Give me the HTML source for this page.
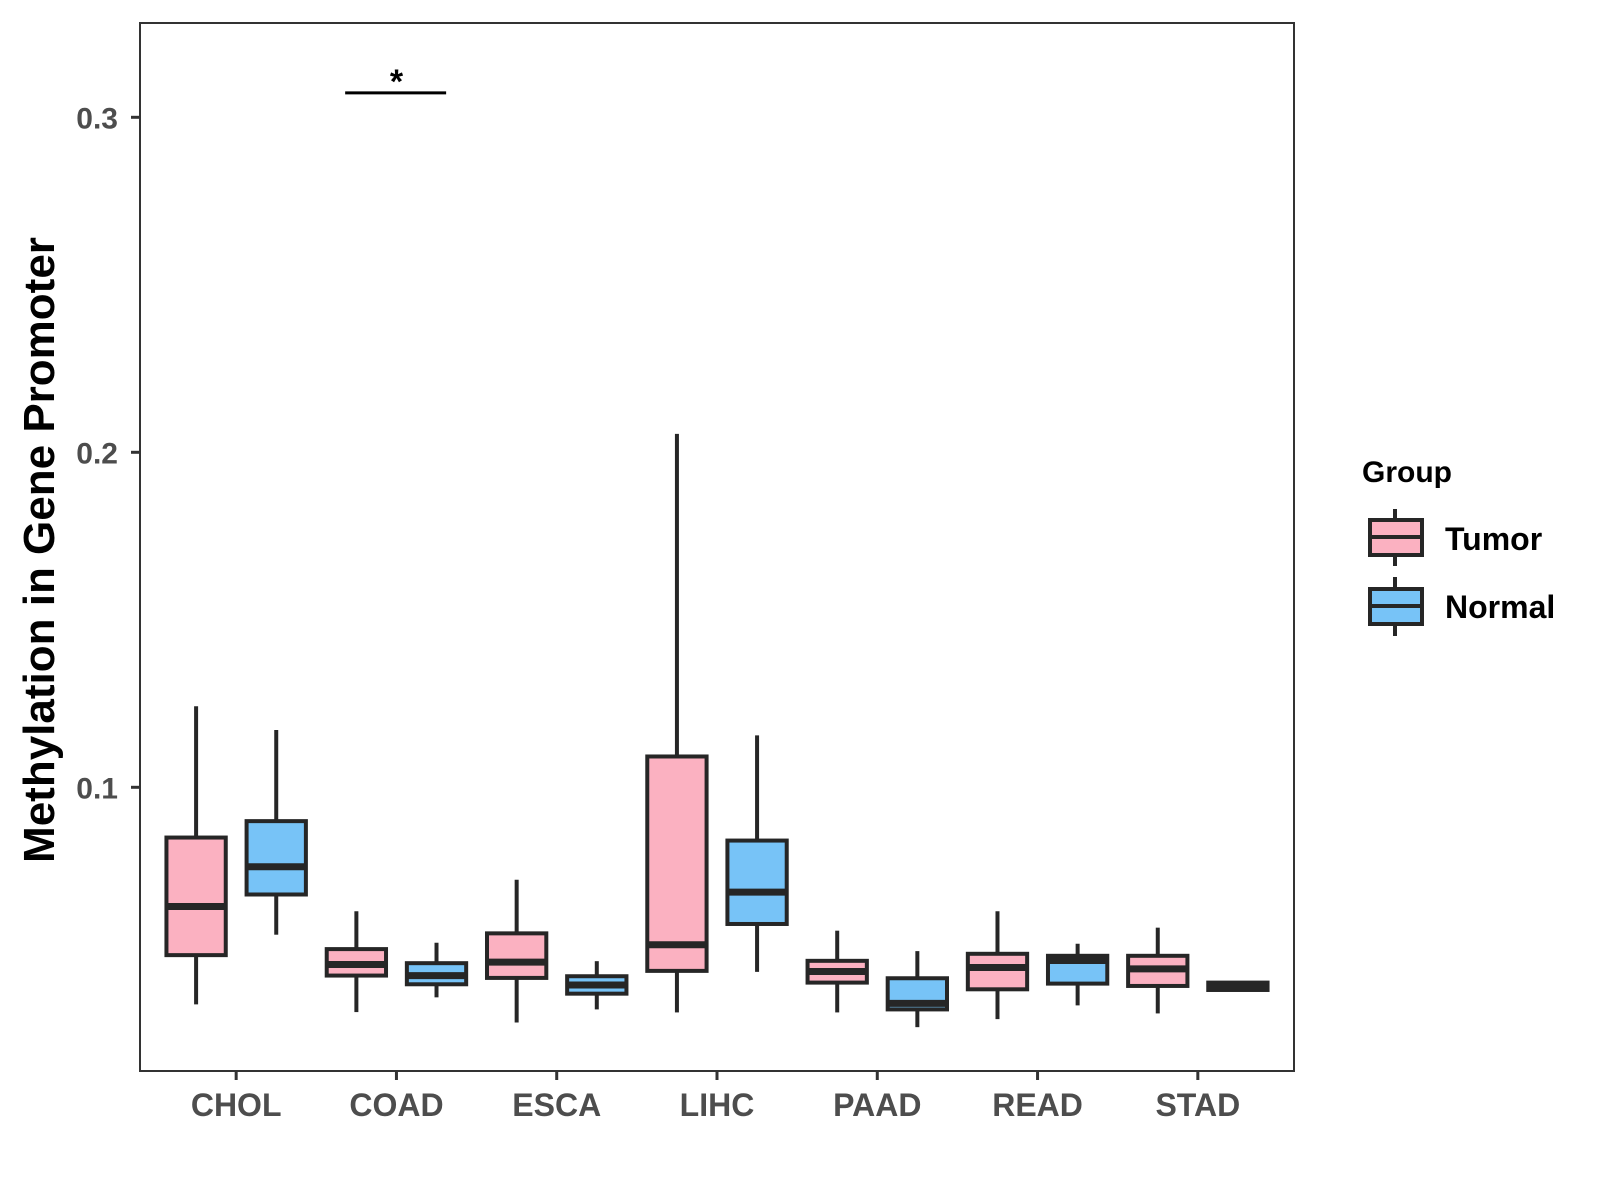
<!DOCTYPE html>
<html><head><meta charset="utf-8"><style>
html,body{margin:0;padding:0;background:#fff;}
svg{display:block;font-family:"Liberation Sans",Arial,sans-serif;}
</style></head><body>
<svg id="chart" width="1600" height="1200" viewBox="0 0 1600 1200" xmlns="http://www.w3.org/2000/svg">
<rect x="0" y="0" width="1600" height="1200" fill="#fff"/>
<g id="plot"></g>
<rect x="140" y="23" width="1154" height="1048" fill="none" stroke="#333" stroke-width="2"/>
<text transform="translate(54,550) rotate(-90)" text-anchor="middle" font-size="44" font-weight="bold" fill="#000">Methylation in Gene Promoter</text>
<g>
<text x="1362" y="482" font-size="30" font-weight="bold" fill="#000">Group</text>
<g>
<line x1="1395" y1="509" x2="1395" y2="566" stroke="#262626" stroke-width="4"/>
<rect x="1370" y="520" width="52" height="35" fill="#FBB1C1" stroke="#262626" stroke-width="4"/>
<line x1="1370" y1="537" x2="1422" y2="537" stroke="#262626" stroke-width="4"/>
<text x="1445" y="550" font-size="32" font-weight="bold" fill="#000">Tumor</text>
</g>
<g>
<line x1="1395" y1="577" x2="1395" y2="636" stroke="#262626" stroke-width="4"/>
<rect x="1370" y="589" width="52" height="35" fill="#77C3F7" stroke="#262626" stroke-width="4"/>
<line x1="1370" y1="606" x2="1422" y2="606" stroke="#262626" stroke-width="4"/>
<text x="1445" y="618" font-size="32" font-weight="bold" fill="#000">Normal</text>
</g>
</g>
</svg>
<script>
const categories = ["CHOL","COAD","ESCA","LIHC","PAAD","READ","STAD"];
const tumorLow    = [0.0352,0.0329,0.0298,0.0328,0.0328,0.0308,0.0325];
const tumorQ1     = [0.0499,0.0438,0.0431,0.0452,0.0417,0.0397,0.0407];
const tumorMedian = [0.0644,0.0471,0.0478,0.0530,0.0450,0.0462,0.0458];
const tumorQ3     = [0.0850,0.0517,0.0564,0.1092,0.0482,0.0503,0.0497];
const tumorHigh   = [0.1242,0.0630,0.0724,0.2055,0.0572,0.0630,0.0581];
const normalLow    = [0.0560,0.0373,0.0337,0.0449,0.0284,0.0349,0.0394];
const normalQ1     = [0.0680,0.0412,0.0384,0.0592,0.0337,0.0414,0.0395];
const normalMedian = [0.0763,0.0438,0.0410,0.0687,0.0355,0.0483,0.0405];
const normalQ3     = [0.0899,0.0475,0.0436,0.0841,0.0430,0.0497,0.0417];
const normalHigh   = [0.1171,0.0536,0.0481,0.1155,0.0511,0.0533,0.0418];
const yTicks = [0.1,0.2,0.3];
const yTickLabels = ["0.1","0.2","0.3"];
const sigCategory = "COAD";
const sigValue = 0.3073;
const sigLabel = "*";

const NS="http://www.w3.org/2000/svg";
const plotG=document.getElementById('plot');
const PL=140,PR=1294;
const bandW=(PR-PL)/(categories.length-1+1.2);
function xScale(i){return PL+bandW*(0.6+i);}
function yScale(v){return 787.3-(Number(v)-0.1)*3350;}
function mk(tag,attrs){const e=document.createElementNS(NS,tag);for(const k in attrs)e.setAttribute(k,attrs[k]);plotG.appendChild(e);return e;}

yTicks.forEach(function(t,i){
  const y=yScale(t);
  const tk=mk('line',{x1:PL-9,x2:PL,y1:y,y2:y,stroke:'#333','stroke-width':3});
  
  
  const lb=mk('text',{x:PL-22,y:y+11,'text-anchor':'end','font-size':30,'font-weight':'bold',fill:'#4d4d4d'});
  lb.textContent=yTickLabels[i];
  
  
});
categories.forEach(function(c,i){
  const x=xScale(i);
  const tk=mk('line',{x1:x,x2:x,y1:1071,y2:1080,stroke:'#333','stroke-width':3});
  
  
  const lb=mk('text',{x:x,y:1116,'text-anchor':'middle','font-size':32,'font-weight':'bold',fill:'#4d4d4d'});
  lb.textContent=c;
  
  
});

const boxW=bandW*0.37;
function drawBox(cx,lo,q1,md,q3,hi,fill,label){
  const yHi=yScale(hi),yQ3=yScale(q3),yMd=yScale(md),yQ1=yScale(q1),yLo=yScale(lo);
  const w1=mk('line',{x1:cx,x2:cx,y1:yHi,y2:yQ3,stroke:'#262626','stroke-width':4});
  
  
  const w2=mk('line',{x1:cx,x2:cx,y1:yQ1,y2:yLo,stroke:'#262626','stroke-width':4});
  
  
  const h=Math.max(yQ1-yQ3,0.5);
  const r=mk('rect',{x:cx-boxW/2,y:yQ3,width:boxW,height:h,fill:fill,stroke:'#262626','stroke-width':4});
  
  
  const m=mk('line',{x1:cx-boxW/2,x2:cx+boxW/2,y1:yMd,y2:yMd,stroke:'#262626','stroke-width':7});
  
  
}
for(let i=0;i<categories.length;i++){
  const name=categories[i].toLowerCase();
  drawBox(xScale(i)-0.25*bandW,tumorLow[i],tumorQ1[i],tumorMedian[i],tumorQ3[i],tumorHigh[i],'#FBB1C1','tumor-'+name);
  drawBox(xScale(i)+0.25*bandW,normalLow[i],normalQ1[i],normalMedian[i],normalQ3[i],normalHigh[i],'#77C3F7','normal-'+name);
}

const si=categories.indexOf(sigCategory);
const sy=yScale(sigValue);
const sb=mk('line',{x1:xScale(si)-bandW*0.32,x2:xScale(si)+bandW*0.31,y1:sy,y2:sy,stroke:'#000','stroke-width':3});


const st=mk('text',{x:xScale(si),y:sy,'text-anchor':'middle','font-size':34,'font-weight':'bold',fill:'#000'});
st.textContent=sigLabel;


</script>
</body></html>
